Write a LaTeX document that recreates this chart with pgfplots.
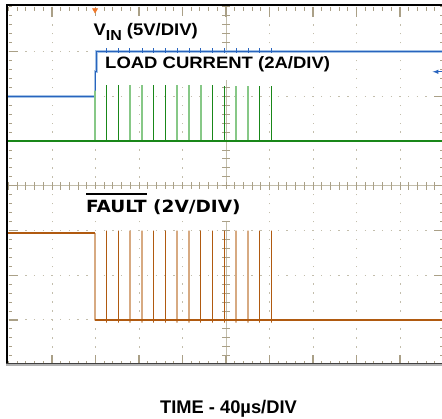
\documentclass[border=0pt]{standalone}
\usepackage{fontspec}
\setmainfont{Liberation Sans}
\newfontfamily\dejavu{DejaVu Sans}
\usepackage{pgfplots}
\pgfplotsset{compat=1.18}
\definecolor{grat}{RGB}{195,190,172}
\definecolor{gtick}{RGB}{170,160,135}
\definecolor{vblue}{RGB}{40,100,190}
\definecolor{vbluel}{RGB}{165,195,230}
\definecolor{gdark}{RGB}{25,135,25}
\definecolor{glight}{RGB}{135,200,135}
\definecolor{fdark}{RGB}{176,90,16}
\definecolor{flight}{RGB}{215,170,130}
\definecolor{fmark}{RGB}{110,55,20}
\definecolor{trig}{RGB}{240,120,40}
\begin{document}
\begin{tikzpicture}
\useasboundingbox (0,0) rectangle (442pt,419pt);
\clip (0,0) rectangle (442pt,419pt);
\fill[white] (0,0) rectangle (442pt,419pt);
% graticule
\begin{scope}[x=43.5pt,y=44.72pt,shift={(8.5pt,54.3pt)}]
 \foreach \i in {1,2,3,4,6,7,8,9}
  \draw[grat,line width=1pt,dash pattern=on 1.4pt off 7.544pt,dash phase=0.7pt] (\i,0)--(\i,8);
 \foreach \j in {1,2,3,5,6,7}
  \draw[grat,line width=1pt,dash pattern=on 1.4pt off 7.3pt,dash phase=0.7pt] (0,\j)--(10,\j);
 \draw[grat,line width=0.7pt] (5,0)--(5,8) (0,4)--(10,4);
 \foreach \k in {0,...,50} {
   \draw[gtick,line width=1pt] (\k/5,3.91)--(\k/5,4.09);
   \draw[gtick,line width=1pt] (\k/5,8)--(\k/5,7.91);
   \draw[gtick,line width=1pt] (\k/5,0)--(\k/5,0.09);
 }
 \foreach \k in {0,...,40} {
   \draw[gtick,line width=1pt] (4.91,\k/5)--(5.09,\k/5);
   \draw[gtick,line width=1pt] (0,\k/5)--(0.09,\k/5);
   \draw[gtick,line width=1pt] (10,\k/5)--(9.91,\k/5);
 }
 \foreach \k in {1,...,9} {
   \draw[gtick,line width=1.3pt] (\k,8)--(\k,7.78);
   \draw[gtick,line width=1.3pt] (\k,0)--(\k,0.22);
 }
 \foreach \k in {1,...,7} {
   \draw[gtick,line width=1.3pt] (0,\k)--(0.22,\k);
   \draw[gtick,line width=1.3pt] (10,\k)--(9.78,\k);
 }
\end{scope}
% label boxes
\fill[white] (88pt,373pt) rectangle (205pt,403pt);
\fill[white] (100pt,339pt) rectangle (337pt,365pt);
\fill[white] (82pt,198pt) rectangle (250pt,230pt);
\node[anchor=base west,inner sep=0,xscale=1.1,font=\fontsize{16.8}{18}\selectfont\bfseries] at (93.3pt,383pt) {V\raisebox{-4.5pt}{\fontsize{14.5}{14}\selectfont IN} (5V/DIV)};
\node[anchor=base west,inner sep=0,xscale=1.12,font=\fontsize{16.5}{18}\selectfont\bfseries] at (105pt,350.7pt) {LOAD CURRENT (2A/DIV)};
\node[anchor=base west,inner sep=0,xscale=1.1,font=\dejavu\fontsize{16.8}{18}\selectfont\bfseries] at (86pt,206pt) {\vbox{\hrule height 1.8pt\kern 6pt\hbox{FAULT}} (2V/DIV)};
\node[anchor=base,inner sep=0,font=\fontsize{18.3}{20}\selectfont\bfseries] at (228.5pt,5.7pt) {TIME - 40µs/DIV};
\begin{axis}[at={(8.5pt,54.3pt)},anchor=south west,scale only axis,
  width=435pt,height=357.76pt,xmin=0,xmax=10,ymin=0,ymax=8,
  hide axis,clip=false]
% V_IN
\addplot[vbluel,line width=2.6pt,line join=miter] coordinates {(0,6.0)(1.99,6.0)(1.99,6.55)(2.02,6.55)(2.02,7.0)(10,7.0)};
\addplot[vblue,line width=1.1pt,line join=miter] coordinates {(0,6.0)(1.99,6.0)(1.99,6.55)(2.02,6.55)(2.02,7.0)(10,7.0)};
\addplot[vblue,only marks,mark=|,mark size=2.2pt,mark options={line width=1pt}] coordinates {
(2.26,7.03)(2.52,7.03)(2.79,7.03)(3.08,7.03)(3.34,7.03)(3.61,7.03)(3.88,7.03)(4.15,7.03)
(4.42,7.03)(4.69,7.03)(4.96,7.03)(5.23,7.03)(5.51,7.03)(5.78,7.03)(6.05,7.03)};
\addplot[vblue,line width=1pt,-latex] coordinates {(10,6.55)(9.75,6.55)};
% load current
\addplot[glight,line width=2pt,line join=bevel] coordinates {
(1.99,5)(1.99,6.13)(1.99,5)
(2.79,5)(2.79,6.25)(2.79,5)
(3.08,5)(3.08,6.25)(3.08,5)
(3.88,5)(3.88,6.25)(3.88,5)
(4.15,5)(4.15,6.25)(4.15,5)
(4.42,5)(4.42,6.25)(4.42,5)
(5.23,5)(5.23,6.23)(5.23,5)
(5.51,5)(5.51,6.23)(5.51,5)};
\addplot[gdark,line width=1.1pt,line join=bevel] coordinates {
(0,5)
(2.26,5)(2.26,6.25)(2.26,5)
(2.52,5)(2.52,6.25)(2.52,5)
(3.34,5)(3.34,6.25)(3.34,5)
(3.61,5)(3.61,6.25)(3.61,5)
(4.69,5)(4.69,6.25)(4.69,5)
(4.96,5)(4.96,6.23)(4.96,5)
(5.78,5)(5.78,6.23)(5.78,5)
(6.05,5)(6.05,6.23)(6.05,5)
(10,5)};
\addplot[gdark,line width=2pt] coordinates {(0,5)(10,5)};
% fault
\addplot[flight,line width=2pt,line join=bevel] coordinates {
(1.99,2.94)(1.99,1)
(2.79,1)(2.79,3.0)(2.79,0.94)(2.79,1)
(3.08,1)(3.08,3.0)(3.08,0.94)(3.08,1)
(3.88,1)(3.88,3.0)(3.88,0.94)(3.88,1)
(4.15,1)(4.15,3.0)(4.15,0.94)(4.15,1)
(5.23,1)(5.23,3.0)(5.23,0.94)(5.23,1)
(5.51,1)(5.51,3.0)(5.51,0.94)(5.51,1)};
\addplot[fdark,line width=1.8pt] coordinates {(0,2.94)(1.99,2.94)};
\addplot[fdark,line width=1.1pt,line join=bevel] coordinates {
(1.99,1)
(2.26,1)(2.26,3.0)(2.26,0.94)(2.26,1)
(2.52,1)(2.52,3.0)(2.52,0.94)(2.52,1)
(3.34,1)(3.34,3.0)(3.34,0.94)(3.34,1)
(3.61,1)(3.61,3.0)(3.61,0.94)(3.61,1)
(4.42,1)(4.42,3.0)(4.42,0.94)(4.42,1)
(4.69,1)(4.69,3.0)(4.69,0.94)(4.69,1)
(4.96,1)(4.96,3.0)(4.96,0.94)(4.96,1)
(5.78,1)(5.78,3.0)(5.78,0.94)(5.78,1)
(6.05,1)(6.05,3.0)(6.05,0.94)(6.05,1)
(10,1)};
\addplot[fdark,line width=2pt] coordinates {(1.99,1)(10,1)};
\addplot[fmark,line width=2.2pt] coordinates {(-0.03,0.87)(-0.03,1.13)};
% trigger marker
\addplot[trig,only marks,mark=triangle*,mark size=3pt,mark options={rotate=180}] coordinates {(1.99,7.93)};
\end{axis}
% frame
\draw[black,line width=1.8pt] (442pt,413.7pt) -- (6.8pt,413.7pt) -- (6.8pt,55.2pt);
\draw[black!75,line width=1.2pt] (6pt,55.2pt) -- (442pt,55.2pt);
\draw[black!30,line width=1.2pt] (6pt,54pt) -- (442pt,54pt);
\end{tikzpicture}
\end{document}
